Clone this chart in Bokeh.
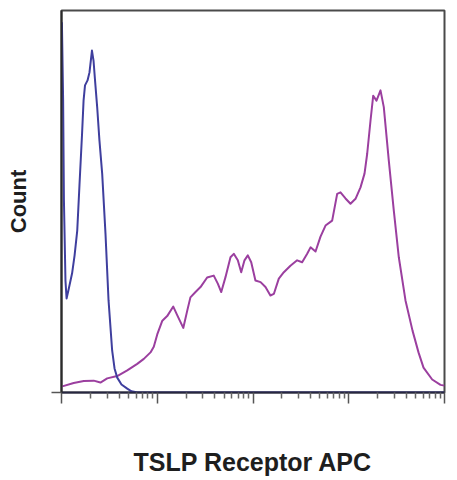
from bokeh.plotting import figure
from bokeh.models import Range1d, FixedTicker
from bokeh.embed import file_html
from bokeh.resources import INLINE

# Isotype control (blue) histogram: fluorescence vs. count (% of scale)
control_x = [1.01, 1.04, 1.06, 1.10, 1.13, 1.18, 1.29, 1.37, 1.46, 1.54, 1.64, 1.70, 1.76,
             1.87, 1.96, 2.08, 2.16, 2.24, 2.36, 2.49, 2.66, 2.88, 3.10, 3.38, 3.58, 3.82,
             4.23, 4.86, 5.38, 6.22, 10000]
control_y = [96.9, 76.4, 50.3, 29.3, 24.6, 26.7, 31.2, 35.9, 42.4, 54.2, 67.8, 76.4, 80.4,
             81.7, 83.8, 89.5, 86.9, 81.7, 74.6, 66.0, 57.3, 41.6, 24.1, 11.0, 6.3, 3.9,
             2.1, 1.0, 0.3, 0.0, 0.0]

# TSLP Receptor APC stained (magenta) histogram
stained_x = [1.02, 1.34, 1.71, 2.17, 2.55, 3.00, 3.82, 4.86, 6.18, 7.24, 8.50, 9.20, 10.0,
             11.3, 12.7, 14.7, 16.2, 18.7, 20.6, 22.2, 25.1, 28.3, 33.2, 38.9, 42.9, 46.6,
             51.6, 58.2, 63.0, 69.4, 75.3, 81.5, 88.3, 95.8, 106, 120, 135, 152, 165, 186,
             210, 246, 289, 326, 368, 399, 450, 507, 572, 671, 757, 820, 925, 1043, 1177,
             1327, 1461, 1558, 1688, 1801, 1949, 2146, 2323, 2620, 2955, 3333, 3914, 4634,
             5352, 6036, 7437, 9080, 10000]
stained_y = [1.6, 2.5, 3.0, 3.1, 2.6, 3.7, 4.3, 5.8, 7.5, 8.8, 10.5, 12.0, 15.2,
             18.8, 20.0, 22.5, 20.2, 16.9, 21.5, 24.9, 26.3, 27.6, 30.1, 30.6, 28.5, 26.3,
             30.2, 35.4, 36.3, 34.6, 31.5, 34.6, 35.9, 34.1, 29.3, 28.9, 27.6, 25.4, 25.8, 29.8,
             31.5, 33.2, 34.6, 34.1, 36.3, 38.0, 36.9, 40.8, 43.7, 45.0, 52.0, 52.4, 50.8, 49.4, 50.7,
             53.7, 57.3, 62.5, 71.2, 77.7, 76.4, 79.1, 74.7, 60.7, 47.6, 35.4, 24.1, 16.2,
             10.5, 6.5, 3.4, 2.0, 1.8]

decades = [1, 10, 100, 1000, 10000]
minor_ticks = [k * d for d in decades[:-1] for k in range(2, 10)]

p = figure(width=449, height=478, x_axis_type="log",
           x_range=Range1d(1, 10000), y_range=Range1d(0, 100),
           output_backend="svg", toolbar_location=None,
           min_border_left=61, min_border_right=5, min_border_top=10, min_border_bottom=10)

p.background_fill_color = "white"
p.border_fill_color = "white"
p.outline_line_color = "#4a4a4a"
p.outline_line_width = 2
p.grid.visible = False

p.line(stained_x, stained_y, line_color="#9b3f9f", line_width=2, line_join="round")
p.line(control_x, control_y, line_color="#3f3f9e", line_width=2, line_join="round")

xa = p.xaxis[0]
xa.ticker = FixedTicker(ticks=decades, minor_ticks=minor_ticks)
xa.major_label_text_font_size = "1px"
xa.major_label_text_alpha = 0
xa.major_label_standoff = 0
xa.major_tick_in = 0
xa.major_tick_out = 11
xa.minor_tick_in = 0
xa.minor_tick_out = 6
xa.major_tick_line_color = "#555555"
xa.minor_tick_line_color = "#666666"
xa.major_tick_line_width = 1.5
xa.minor_tick_line_width = 1.5
xa.axis_line_color = "#262640"
xa.axis_line_width = 2
xa.axis_label = "TSLP Receptor APC"
xa.axis_label_text_font = "Liberation Sans"
xa.axis_label_text_font_style = "bold"
xa.axis_label_text_font_size = "25px"
xa.axis_label_text_color = "#1e1e1e"
xa.axis_label_standoff = 44

ya = p.yaxis[0]
ya.ticker = FixedTicker(ticks=[0], minor_ticks=[])
ya.major_label_text_font_size = "1px"
ya.major_label_text_alpha = 0
ya.major_label_standoff = 0
ya.major_tick_in = 0
ya.major_tick_out = 10
ya.major_tick_line_color = "#555555"
ya.major_tick_line_width = 1.5
ya.axis_line_color = "#2a2a2a"
ya.axis_line_width = 2
ya.axis_label = "Count"
ya.axis_label_text_font = "Liberation Sans"
ya.axis_label_text_font_style = "bold"
ya.axis_label_text_font_size = "22px"
ya.axis_label_text_color = "#1e1e1e"
ya.axis_label_standoff = 21

open("out.html", "w").write(file_html(p, INLINE))
